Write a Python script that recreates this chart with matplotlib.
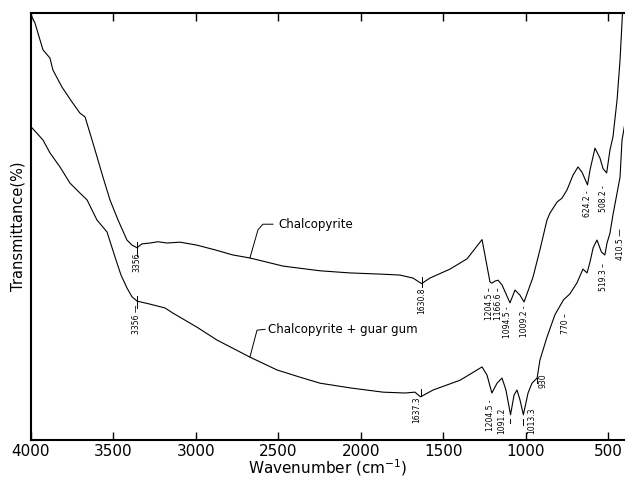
import numpy as np
import matplotlib
matplotlib.use("Agg")
import matplotlib.pyplot as plt

# FTIR spectra, wavenumber (cm-1) vs transmittance (%)
wn_chal = [4000, 3976, 3945, 3927, 3885, 3867, 3812, 3751, 3703, 3672, 3624,
           3563, 3521, 3472, 3418, 3387, 3357, 3327, 3278, 3230, 3175, 3096,
           2993, 2884, 2775, 2672, 2471, 2247, 2065, 1865, 1762, 1683, 1630.8,
           1580, 1458, 1355, 1264, 1216, 1204.5, 1185, 1166.6, 1143, 1094.5,
           1064, 1034, 1009.2, 955, 913, 870, 852, 809, 779, 749, 712, 682,
           658, 624.2, 609, 579, 549, 530, 508.2, 488, 470, 445, 427, 412]
t_chal = [99.5, 97.6, 93.6, 91.3, 89.4, 86.6, 82.6, 79.1, 76.5, 75.6, 69.5,
          61.5, 56.2, 51.5, 46.8, 45.6, 45.0, 45.9, 46.1, 46.4, 46.1, 46.3,
          45.6, 44.5, 43.3, 42.6, 40.7, 39.6, 39.1, 38.8, 38.6, 37.9, 36.6,
          37.9, 40.0, 42.4, 46.9, 37.0, 36.7, 37.2, 37.4, 36.3, 32.1,
          35.1, 33.9, 32.3, 38.1, 44.5, 51.5, 53.1, 55.7, 56.6, 58.5, 62.0, 63.9,
          62.7, 59.7, 63.2, 68.3, 66.0, 63.5, 62.5, 67.9, 70.9, 79.6, 88.9, 100.0]

wn_guar = [4000, 3964, 3927, 3885, 3824, 3763, 3703, 3660, 3600, 3539, 3490,
           3454, 3418, 3387, 3356, 3278, 3187, 3139, 2993, 2872, 2672, 2508,
           2368, 2247, 2065, 1865, 1731, 1671, 1637.3, 1561, 1397, 1264, 1234,
           1204.5, 1173, 1143, 1119, 1091.2, 1070, 1052, 1034, 1013.3, 985,
           961, 930, 913, 870, 822, 770, 731, 688, 670, 652, 627, 609, 590,
           567, 540, 519.3, 506, 488, 470, 445, 427, 415, 400]
t_guar = [73.3, 71.8, 70.2, 67.2, 63.9, 60.1, 57.8, 56.2, 51.5, 48.7, 42.8,
          38.6, 35.6, 33.5, 32.5, 31.8, 30.9, 29.7, 26.4, 23.4, 19.4, 16.4,
          14.7, 13.3, 12.2, 11.2, 11.0, 11.2, 10.1, 11.7, 14.0, 17.1, 15.2,
          11.0, 13.3, 14.5, 11.7, 5.9, 10.5, 11.7, 9.4, 5.9, 11.0,
          13.3, 14.5, 18.7, 24.1, 29.3, 32.8, 34.2, 36.8, 38.4, 40.0, 39.1, 41.7, 45.0,
          46.8, 44.0, 43.3, 46.1, 48.4, 52.7, 57.8, 61.5, 70.2, 73.5]

# peak labels: (text, label x, label top y)
labels_chal = [("3356", 3357, 43.8), ("1630.8", 1630.8, 35.6),
               ("1204.5 –", 1216, 35.8), ("1166.6 –", 1167, 35.8),
               ("1094.5 -", 1107, 31.4), ("1009.2 -", 1004, 31.6),
               ("624.2 -", 627, 58.5), ("508.2 -", 530, 59.7)]
labels_guar = [("3356 —", 3357, 31.6), ("1637.3", 1659, 10.1),
               ("1204.5 -", 1210, 9.4), ("1091.2", 1143, 7.5),
               ("1013.3", 961, 7.5), ("930", 894, 15.6),
               ("770 –", 755, 29.7), ("519.3 –", 530, 41.4),
               ("410.5 —", 425, 49.6)]

xticks = [4000, 3500, 3000, 2500, 2000, 1500, 1000, 500]

fig = plt.figure(figsize=(6.27, 4.79), dpi=100)
ax = fig.add_axes([0.0494, 0.0814, 0.9466, 0.8921])

ax.plot(wn_chal, t_chal, color="black", lw=0.8)
ax.plot(wn_guar, t_guar, color="black", lw=0.8)

ax.set_xlim(4000, 400)
ax.set_ylim(0, 100)

for txt, x, y in labels_chal + labels_guar:
    ax.text(x, y, txt, rotation=90, ha="center", va="top", fontsize=5.5,
            clip_on=True)

# short marks through the curve at the labelled bands
def mark(x, y0, y1):
    ax.plot([x, x], [y0, y1], color="black", lw=0.7)

def on_curve(wn, t, x):
    return np.interp(-x, [-w for w in wn], t)

mark(3356, on_curve(wn_chal, t_chal, 3356) - 2, on_curve(wn_chal, t_chal, 3356) + 1.2)
mark(3356, on_curve(wn_guar, t_guar, 3356) - 1.5, on_curve(wn_guar, t_guar, 3356) + 1.2)
mark(1630.8, 35.8, 38.2)
mark(1637.3, 10.3, 12.0)
mark(1094.5, 5.0, 4.0)
mark(1016, 5.0, 3.6)
mark(930, 13.3, 14.5)

# curve names with leader lines
ax.plot([2672, 2623, 2593, 2532],
        [on_curve(wn_chal, t_chal, 2672), 49.2, 50.5, 50.5],
        color="black", lw=0.7)
ax.text(2502, 50.5, "Chalcopyrite", fontsize=8.5, va="center")
ax.plot([2672, 2629, 2580],
        [on_curve(wn_guar, t_guar, 2672), 25.7, 25.9],
        color="black", lw=0.7)
ax.text(2562, 25.9, "Chalcopyrite + guar gum", fontsize=8.5, va="center")

ax.set_xticks(xticks)
ax.set_yticks([])
ax.tick_params(axis="x", direction="in", top=True, length=6, width=1,
               labelsize=11, pad=3)
for side in ("bottom", "top", "left"):
    ax.spines[side].set_linewidth(1.5)
ax.spines["right"].set_visible(False)

ax.set_xlabel("Wavenumber (cm$^{-1}$)", fontsize=11, labelpad=-1)
ax.set_ylabel("Transmittance(%)", fontsize=10.5, labelpad=4)

fig.savefig("out.png", dpi=100)
